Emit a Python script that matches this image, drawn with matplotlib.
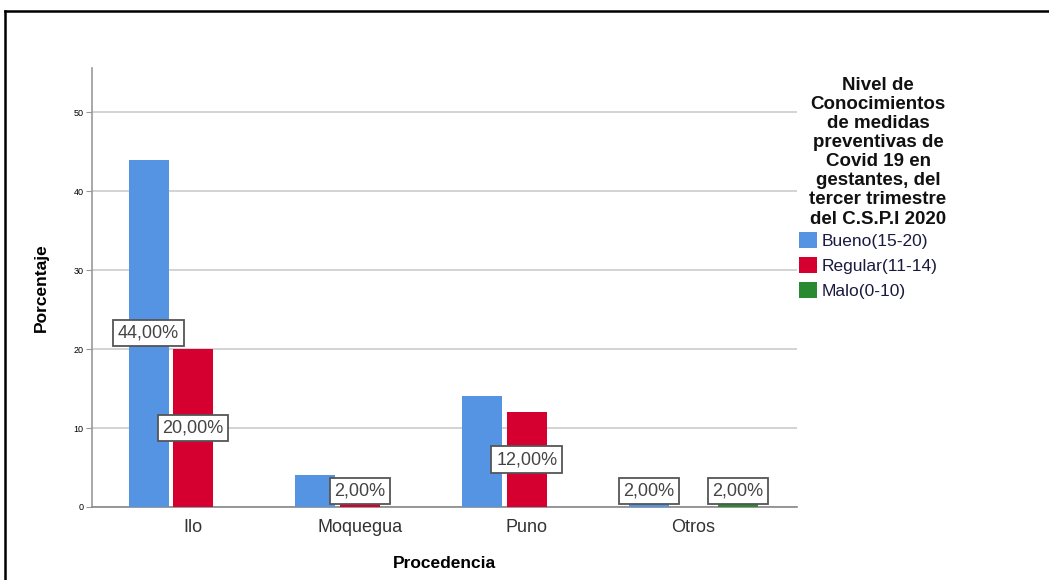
import numpy as np
import matplotlib.pyplot as plt
from matplotlib.lines import Line2D

# ###########################################
# Data
# ###########################################
procedencia = ['Ilo', 'Moquegua', 'Puno', 'Otros']
niveles = ['Bueno(15-20)', 'Regular(11-14)', 'Malo(0-10)']
bueno = [44, 4, 14, 2]
regular = [20, 2, 12, 0]
malo = [0, 0, 0, 2]
colores = ['#5594e3', '#d5002f', '#2a8a32']

# which bars get a value box: (serie, category)
etiquetas = [(0, 0), (1, 0), (1, 1), (1, 2), (0, 3), (2, 3)]

titulo_leyenda = ('Nivel de\nConocimientos\nde medidas\npreventivas de\nCovid 19 en\n'
                  'gestantes, del\ntercer trimestre\ndel C.S.P.I 2020')

plt.rcParams['font.family'] = ['Liberation Sans', 'DejaVu Sans']

# ###########################################
# Figure
# ###########################################
fig = plt.figure(figsize=(10.49, 5.8), dpi=100)
ax = fig.add_axes([92 / 1049, 1 - 507 / 580, (797 - 92) / 1049, (507 - 68) / 580])

series = [bueno, regular, malo]
x = np.arange(len(procedencia))
slot = 0.267
width = 0.24
for k, valores in enumerate(series):
    ax.bar(x + (k - 1) * slot, valores, width=width, color=colores[k],
           label=niveles[k], zorder=3)

# value boxes, centred on the bar
for k, i in etiquetas:
    v = series[k][i]
    ax.text(x[i] + (k - 1) * slot, max(v / 2, 2.0), f'{v:.2f}%'.replace('.', ','),
            ha='center', va='center', fontsize=13, color='#444444', zorder=5,
            bbox=dict(boxstyle='square,pad=0.26', facecolor='white',
                      edgecolor='#555555', linewidth=1.3))

ax.set_xlim(-0.606, 3.62)
ax.set_ylim(0, 55.6)
ax.set_yticks([0, 10, 20, 30, 40, 50])
ax.set_xticks(x)
ax.set_xticklabels(procedencia, fontsize=13, color='#333333')
ax.tick_params(axis='y', labelsize=6.5, length=4, color='#999999', pad=2)
ax.tick_params(axis='x', length=0, pad=9)
ax.yaxis.grid(True, color='#d0d0d0', linewidth=1.3, zorder=0)
ax.set_axisbelow(True)

for lado in ['top', 'right']:
    ax.spines[lado].set_visible(False)
ax.spines['left'].set_color('#999999')
ax.spines['bottom'].set_color('#888888')
ax.spines['left'].set_linewidth(1.2)
ax.spines['bottom'].set_linewidth(1.2)

ax.set_ylabel('Porcentaje', fontsize=12.5, fontweight='bold', labelpad=18)
ax.set_xlabel('Procedencia', fontsize=12.5, fontweight='bold', labelpad=14)

# legend title as its own text block, entries below it
fig.text(878 / 1049, 1 - 77 / 580, titulo_leyenda, ha='center', va='top',
         multialignment='center', fontsize=13.5, fontweight='bold',
         linespacing=1.16, color='#111111')
leg = ax.legend(loc='upper left', bbox_to_anchor=(799 / 1049, 1 - 232 / 580),
                bbox_transform=fig.transFigure, frameon=False,
                fontsize=12.5, handlelength=1.05, handleheight=1.05,
                handletextpad=0.25, labelspacing=0.45, borderpad=0, borderaxespad=0)
for t in leg.get_texts():
    t.set_color('#1a1a40')

# frame around the picture
fig.add_artist(Line2D([5 / 1049, 1], [1 - 11 / 580, 1 - 11 / 580], color='black',
                      linewidth=1.8, transform=fig.transFigure))
fig.add_artist(Line2D([5 / 1049, 5 / 1049], [0, 1 - 11 / 580], color='black',
                      linewidth=1.8, transform=fig.transFigure))

plt.savefig('out.png', dpi=100)
